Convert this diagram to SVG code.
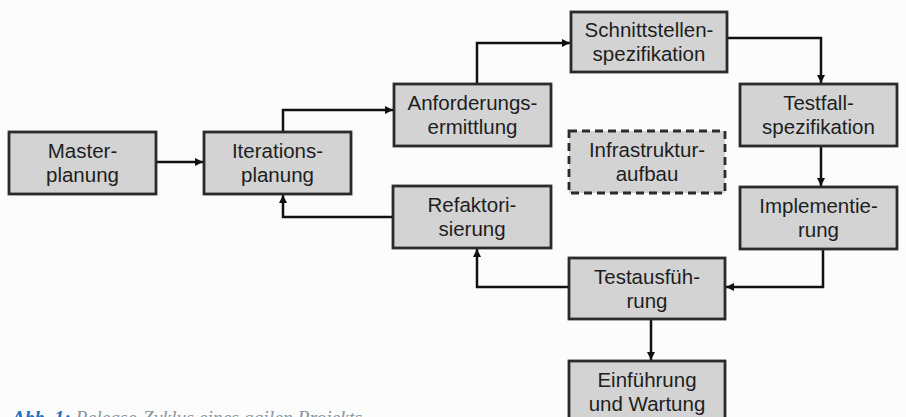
<svg xmlns="http://www.w3.org/2000/svg" width="906" height="417" viewBox="0 0 906 417">
<style>
.box{fill:#d3d3d3;stroke:#2b2b2b;stroke-width:2.8}
.dash{fill:#d3d3d3;stroke:#2b2b2b;stroke-width:2.8;stroke-dasharray:8 5}
.lbl{font-family:"Liberation Sans",Arial,sans-serif;font-size:20.5px;fill:#1e1e1e;text-anchor:middle}
.con{fill:none;stroke:#111;stroke-width:2.5}
.cap1{font-family:"Liberation Serif","DejaVu Serif",serif;font-style:italic;font-weight:bold;font-size:19px;fill:#1a73c2}
.cap2{font-family:"Liberation Serif","DejaVu Serif",serif;font-style:italic;font-size:19px;fill:#8797a3}
</style>
<defs>
<marker id="ah" viewBox="0 0 10 10" refX="10" refY="5" markerWidth="9" markerHeight="8" markerUnits="userSpaceOnUse" orient="auto">
<path d="M0,0 L10,5 L0,10 z" fill="#111"/>
</marker>
</defs>
<rect width="906" height="417" fill="#fcfcfc"/>
<g id="connectors">
<path class="con" d="M156,162 H203" marker-end="url(#ah)"/>
<path class="con" d="M283,132 V110 H393" marker-end="url(#ah)"/>
<path class="con" d="M477,84 V43 H570" marker-end="url(#ah)"/>
<path class="con" d="M727,38 H821 V83" marker-end="url(#ah)"/>
<path class="con" d="M821,146 V186" marker-end="url(#ah)"/>
<path class="con" d="M823,249 V287 H726" marker-end="url(#ah)"/>
<path class="con" d="M569,287 H477 V249" marker-end="url(#ah)"/>
<path class="con" d="M393,217 H283 V195" marker-end="url(#ah)"/>
<path class="con" d="M651,319 V360" marker-end="url(#ah)"/>
</g>
<g id="master">
<rect class="box" x="9" y="132" width="147" height="62"/>
<text class="lbl" x="82.5" y="158">Master-</text>
<text class="lbl" x="82.5" y="182">planung</text>
</g>
<g id="iterations">
<rect class="box" x="204" y="132" width="147" height="62"/>
<text class="lbl" x="277.5" y="158">Iterations-</text>
<text class="lbl" x="277.5" y="182">planung</text>
</g>
<g id="anforderung">
<rect class="box" x="394" y="84" width="157" height="62"/>
<text class="lbl" x="472.5" y="110">Anforderungs-</text>
<text class="lbl" x="472.5" y="134">ermittlung</text>
</g>
<g id="schnittstellen">
<rect class="box" x="571" y="12" width="156" height="60"/>
<text class="lbl" x="649" y="37">Schnittstellen-</text>
<text class="lbl" x="649" y="61">spezifikation</text>
</g>
<g id="testfall">
<rect class="box" x="740" y="84" width="157" height="62"/>
<text class="lbl" x="818.5" y="110">Testfall-</text>
<text class="lbl" x="818.5" y="134">spezifikation</text>
</g>
<g id="infrastruktur">
<rect class="dash" x="569" y="131" width="156" height="62"/>
<text class="lbl" x="647" y="157">Infrastruktur-</text>
<text class="lbl" x="647" y="181">aufbau</text>
</g>
<g id="refaktorisierung">
<rect class="box" x="393" y="186" width="158" height="62"/>
<text class="lbl" x="472" y="212">Refaktori-</text>
<text class="lbl" x="472" y="236">sierung</text>
</g>
<g id="implementierung">
<rect class="box" x="740" y="187" width="157" height="62"/>
<text class="lbl" x="818.5" y="213">Implementie-</text>
<text class="lbl" x="818.5" y="237">rung</text>
</g>
<g id="testausfuehrung">
<rect class="box" x="569" y="258" width="156" height="61"/>
<text class="lbl" x="647" y="284">Testausfüh-</text>
<text class="lbl" x="647" y="308">rung</text>
</g>
<g id="einfuehrung">
<rect class="box" x="569" y="361" width="156" height="70"/>
<text class="lbl" x="647" y="387">Einführung</text>
<text class="lbl" x="647" y="411">und Wartung</text>
</g>
<text x="12" y="424" textLength="350" lengthAdjust="spacingAndGlyphs"><tspan class="cap1">Abb. 1:</tspan><tspan class="cap2"> Release-Zyklus eines agilen Projekts</tspan></text>
</svg>
